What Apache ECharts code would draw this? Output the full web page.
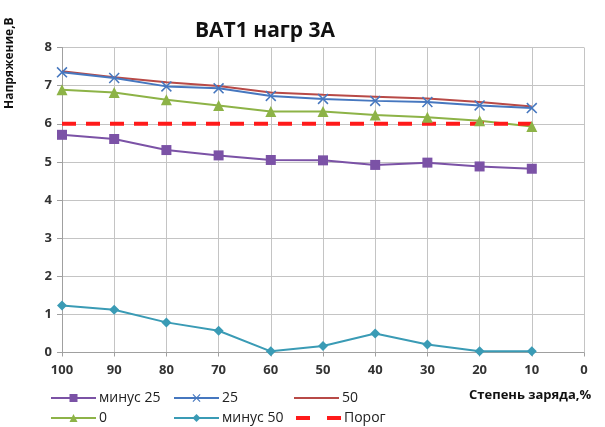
<!DOCTYPE html>
<html>
<head>
<meta charset="utf-8">
<script src="https://cdn.jsdelivr.net/npm/echarts@6/dist/echarts.min.js"></script>
<style>
  html, body { margin: 0; padding: 0; background: #fff; }
  #chart { width: 605px; height: 427px; }
</style>
</head>
<body>
<div id="chart"></div>
<script>
// State of charge, % (x axis categories)
const charge = ['100', '90', '80', '70', '60', '50', '40', '30', '20', '10', '0'];

// Voltage, V, per temperature
const minus25 = [5.71, 5.60, 5.31, 5.17, 5.05, 5.04, 4.92, 4.98, 4.88, 4.82];
const plus25  = [7.35, 7.20, 6.98, 6.93, 6.73, 6.65, 6.60, 6.57, 6.48, 6.41];
const plus50  = [7.38, 7.22, 7.09, 6.99, 6.82, 6.76, 6.71, 6.66, 6.57, 6.45];
const zero    = [6.89, 6.82, 6.63, 6.48, 6.32, 6.32, 6.23, 6.17, 6.08, 5.93];
const minus50 = [1.23, 1.12, 0.79, 0.57, 0.03, 0.17, 0.50, 0.21, 0.03, 0.03];
const threshold = [6, 6, 6, 6, 6, 6, 6, 6, 6, 6];

const FONT = '"Open Sans", "DejaVu Sans", sans-serif';
const crossPath = 'path://M1,0 L5,4 L9,0 L10,1 L6,5 L10,9 L9,10 L5,6 L1,10 L0,9 L4,5 L0,1 Z';
const plainLineIcon = 'path://M0,0 L45,0 L45,2 L0,2 Z';

const chart = echarts.init(document.getElementById('chart'), null, { renderer: 'canvas' });

function legendAt(item, left, top) {
  return {
    data: [item],
    left: left, top: top,
    itemWidth: 45, itemHeight: 10,
    itemGap: 4,
    padding: 0,
    symbolKeepAspect: true,
    textStyle: { fontFamily: FONT, fontSize: 14, color: '#222', padding: [0, 0, 0, -2] }
  };
}

chart.setOption({
  animation: false,
  backgroundColor: '#ffffff',
  title: {
    text: 'BAT1 нагр 3А',
    left: 190,
    top: 16,
    textStyle: { fontFamily: FONT, fontSize: 21, fontWeight: 'bold', color: '#111' }
  },
  legend: [
    legendAt('минус 25', 50, 391),
    legendAt('25', 173, 391),
    legendAt({ name: '50', icon: plainLineIcon }, 294, 391),
    legendAt('0', 50, 411),
    legendAt('минус 50', 173, 411),
    legendAt({
      name: 'Порог',
      itemStyle: { opacity: 0 },
      lineStyle: { type: [14, 17], width: 4, color: '#ff1a1a' }
    }, 294, 411)
  ],
  grid: { left: 62, right: 21, top: 47.5, bottom: 74.5, containLabel: false },
  xAxis: {
    type: 'category',
    data: charge,
    boundaryGap: false,
    axisLine: { lineStyle: { color: '#a0a0a0', width: 1 } },
    axisTick: { show: true, alignWithLabel: true, length: 4, lineStyle: { color: '#a0a0a0' } },
    axisLabel: { fontFamily: FONT, fontSize: 13, fontWeight: 'bold', color: '#333', margin: 11 },
    splitLine: { show: true, lineStyle: { color: '#c4c4c4', width: 1 } }
  },
  yAxis: {
    type: 'value',
    min: 0, max: 8, interval: 1,
    axisLine: { show: true, lineStyle: { color: '#a0a0a0', width: 1 } },
    axisTick: { show: true, length: 5, lineStyle: { color: '#a0a0a0' } },
    axisLabel: { fontFamily: FONT, fontSize: 13, fontWeight: 'bold', color: '#333', margin: 10 },
    splitLine: { show: true, lineStyle: { color: '#c4c4c4', width: 1 } }
  },
  graphic: [
    {
      type: 'text',
      left: 469, top: 389,
      style: { text: 'Степень заряда,%', fontFamily: FONT, fontSize: 13, fontWeight: 'bold', fill: '#111' }
    },
    {
      type: 'text',
      x: 4, y: 109,
      rotation: Math.PI / 2,
      style: { text: 'Напряжение,В', fontFamily: FONT, fontSize: 12, fontWeight: 'bold', fill: '#111' }
    }
  ],
  series: [
    {
      name: 'минус 25', type: 'line', data: minus25,
      symbol: 'rect', symbolSize: 10,
      itemStyle: { color: '#7b52a6' },
      lineStyle: { color: '#7b52a6', width: 2 }
    },
    {
      name: '50', type: 'line', data: plus50,
      symbol: 'none', showSymbol: false,
      itemStyle: { color: '#b84a47' },
      lineStyle: { color: '#b84a47', width: 2 }
    },
    {
      name: '25', type: 'line', data: plus25,
      symbol: crossPath, symbolSize: 11,
      itemStyle: { color: '#4677bf' },
      lineStyle: { color: '#4677bf', width: 2 }
    },
    {
      name: '0', type: 'line', data: zero,
      symbol: 'triangle', symbolSize: 11,
      itemStyle: { color: '#8db347' },
      lineStyle: { color: '#8db347', width: 2 }
    },
    {
      name: 'минус 50', type: 'line', data: minus50,
      symbol: 'diamond', symbolSize: 10,
      itemStyle: { color: '#3a9bb5' },
      lineStyle: { color: '#3a9bb5', width: 2 }
    },
    {
      name: 'Порог', type: 'line', data: threshold,
      symbol: 'none', showSymbol: false,
      itemStyle: { color: '#ff1a1a' },
      lineStyle: { color: '#ff1a1a', width: 4, type: [14, 10] }
    }
  ]
});
</script>
</body>
</html>
